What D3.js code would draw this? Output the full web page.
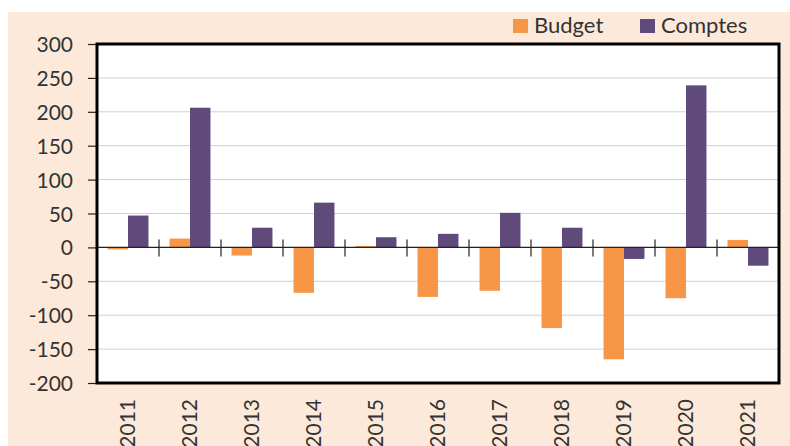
<!DOCTYPE html>
<html>
<head>
<meta charset="utf-8">
<script src="https://cdn.jsdelivr.net/npm/d3@7"></script>
<style>
  html, body { margin: 0; padding: 0; background: #fff; }
  svg { display: block; }
</style>
</head>
<body>
<div id="chart"></div>
<script>
const YEARS = ['2011', '2012', '2013', '2014', '2015', '2016', '2017', '2018', '2019', '2020', '2021'];
const BUDGET = [-3, 13, -12, -67, 2, -73, -64, -119, -165, -75, 11];
const COMPTES = [47, 206, 29, 66, 15, 20, 51, 29, -17, 239, -27];
const SERIES = ['Budget', 'Comptes'];
const Y_TICKS = [-200, -150, -100, -50, 0, 50, 100, 150, 200, 250, 300];

const COLORS = { Budget: '#f79646', Comptes: '#604a7b' };

const width = 790, height = 446;
const margin = { top: 44, right: 11, bottom: 63, left: 97 };
const font = 'Lato, "Open Sans", sans-serif';

const svg = d3.select('#chart').append('svg')
  .attr('width', width)
  .attr('height', height);

// peach panel
svg.append('rect')
  .attr('x', 8).attr('y', 12)
  .attr('width', width - 8).attr('height', height - 12)
  .attr('fill', '#fde9d9');

const x0 = d3.scaleBand()
  .domain(YEARS)
  .range([margin.left, width - margin.right])
  .padding(0);

const step = x0.bandwidth();
const x1 = d3.scaleBand()
  .domain(SERIES)
  .range([step * 0.17, step * 0.83]);

const y = d3.scaleLinear()
  .domain([-200, 300])
  .range([height - margin.bottom, margin.top]);

const plotW = width - margin.right - margin.left;
const plotH = height - margin.bottom - margin.top;

svg.append('rect')
  .attr('x', margin.left).attr('y', margin.top)
  .attr('width', plotW).attr('height', plotH)
  .attr('fill', '#fff');

// gridlines
svg.append('g')
  .selectAll('line')
  .data(Y_TICKS.filter(d => d !== -200 && d !== 300 && d !== 0))
  .join('line')
  .attr('x1', margin.left).attr('x2', width - margin.right)
  .attr('y1', d => y(d)).attr('y2', d => y(d))
  .attr('stroke', '#d0d0d0')
  .attr('stroke-width', 1);

// bars
const rows = YEARS.map((yr, i) => ({ year: yr, Budget: BUDGET[i], Comptes: COMPTES[i] }));

svg.append('g')
  .selectAll('g')
  .data(rows)
  .join('g')
  .attr('transform', d => 'translate(' + x0(d.year) + ',0)')
  .selectAll('rect')
  .data(d => SERIES.map(s => ({ key: s, value: d[s] })))
  .join('rect')
  .attr('x', d => x1(d.key))
  .attr('width', x1.bandwidth())
  .attr('y', d => y(Math.max(0, d.value)))
  .attr('height', d => Math.abs(y(d.value) - y(0)))
  .attr('fill', d => COLORS[d.key]);

// zero line with category ticks
svg.append('line')
  .attr('x1', margin.left).attr('x2', width - margin.right)
  .attr('y1', y(0)).attr('y2', y(0))
  .attr('stroke', '#222').attr('stroke-width', 1.2);

svg.append('g')
  .selectAll('line')
  .data(YEARS.slice(1))
  .join('line')
  .attr('x1', d => x0(d)).attr('x2', d => x0(d))
  .attr('y1', y(0) - 8).attr('y2', y(0) + 9)
  .attr('stroke', '#222').attr('stroke-width', 1.2);

// y axis (plain hyphen for negatives, like the original)
const yAxis = svg.append('g')
  .attr('transform', 'translate(' + margin.left + ',0)')
  .call(d3.axisLeft(y).tickValues(Y_TICKS).tickFormat(d => String(d)).tickSize(9).tickPadding(15));
yAxis.select('.domain').remove();
yAxis.selectAll('.tick line').attr('stroke', '#222').attr('stroke-width', 1.2);
yAxis.selectAll('.tick text')
  .attr('fill', '#333')
  .attr('font-family', font)
  .attr('font-size', '21px')
  .attr('dy', '0.36em');

// plot border
svg.append('rect')
  .attr('x', margin.left).attr('y', margin.top)
  .attr('width', plotW).attr('height', plotH)
  .attr('fill', 'none')
  .attr('stroke', '#000')
  .attr('stroke-width', 3);

// x labels
svg.append('g')
  .selectAll('text')
  .data(YEARS)
  .join('text')
  .attr('transform', d => 'translate(' + (x0(d) + step / 2 + 7) + ',' + (height - margin.bottom + 16) + ') rotate(-90)')
  .attr('text-anchor', 'end')
  .attr('fill', '#333')
  .attr('font-family', font)
  .attr('font-size', '21px')
  .text(d => d);

// legend
const legendPos = { Budget: 513, Comptes: 640 };
const legend = svg.append('g');
SERIES.forEach(s => {
  const g = legend.append('g').attr('transform', 'translate(' + legendPos[s] + ',19)');
  g.append('rect').attr('width', 15).attr('height', 14).attr('fill', COLORS[s]);
  g.append('text')
    .attr('x', 21).attr('y', 14)
    .attr('fill', '#333')
    .attr('font-family', font)
    .attr('font-size', '22px')
    .text(s);
});
</script>
</body>
</html>
